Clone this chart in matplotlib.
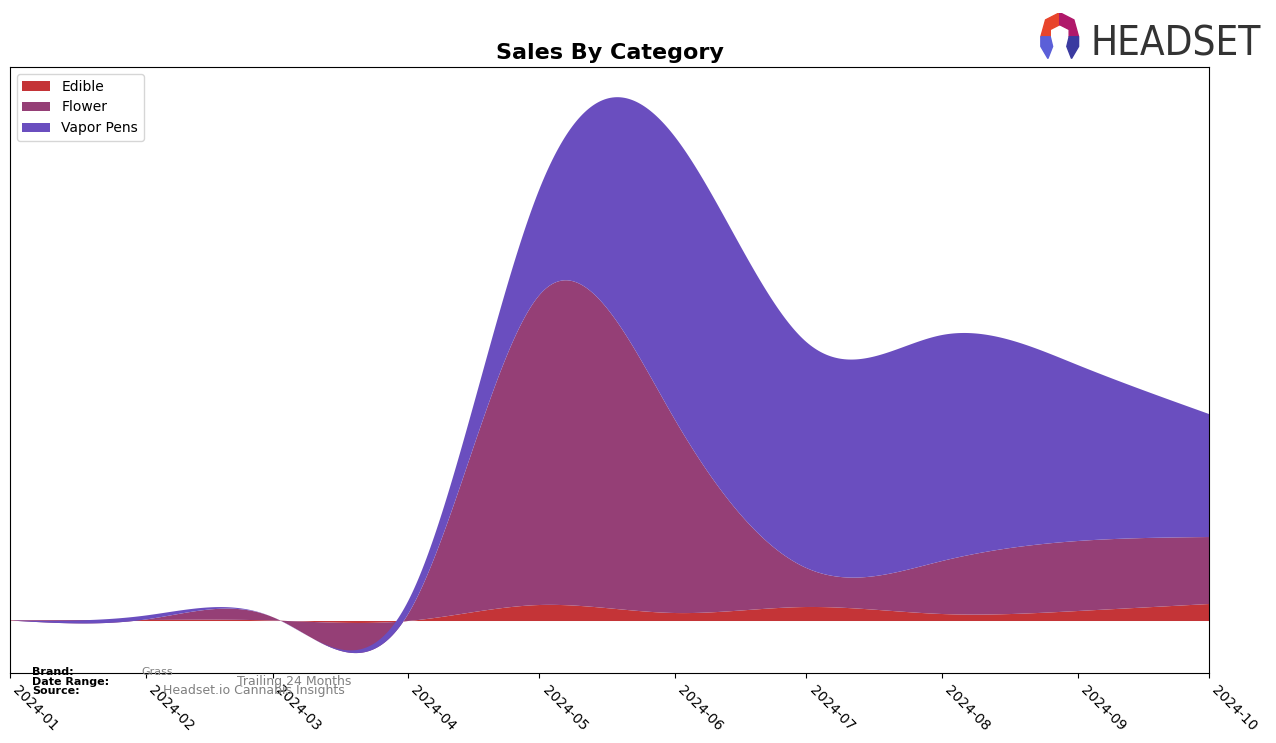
import numpy as np
import pandas as pd
import matplotlib
matplotlib.use('Agg')
import matplotlib.pyplot as plt
import matplotlib.dates as mdates
from matplotlib.patches import Polygon

months = ['2024-01', '2024-02', '2024-03', '2024-04', '2024-05',
          '2024-06', '2024-07', '2024-08', '2024-09', '2024-10']
categories = ['Edible', 'Flower', 'Vapor Pens']
edible = [0.5, 1.0, 0.5, 0.0, 16, 8, 14, 7, 10, 17]
flower = [0.0, 0.5, 3.5, 7.0, 310, 193, 39, 53, 70, 67]
vapor_pens = [0.0, 4.0, 0.0, 13.0, 106, 283, 226, 226, 176, 123]
colors = ['#c43437', '#953f76', '#6a4ebf']

brand = 'Grass'
date_range = 'Trailing 24 Months'
source = 'Headset.io Cannabis Insights'


def natural_spline(x, y, xs):
    # plain natural cubic spline, just to smooth the monthly values
    x = np.asarray(x, float)
    y = np.asarray(y, float)
    n = len(x)
    h = np.diff(x)
    A = np.zeros((n, n))
    b = np.zeros(n)
    A[0, 0] = 1
    A[-1, -1] = 1
    for i in range(1, n - 1):
        A[i, i - 1] = h[i - 1]
        A[i, i] = 2 * (h[i - 1] + h[i])
        A[i, i + 1] = h[i]
        b[i] = 3 * ((y[i + 1] - y[i]) / h[i] - (y[i] - y[i - 1]) / h[i - 1])
    c = np.linalg.solve(A, b)
    idx = np.clip(np.searchsorted(x, xs) - 1, 0, n - 2)
    dx = xs - x[idx]
    bb = (y[idx + 1] - y[idx]) / h[idx] - h[idx] * (2 * c[idx] + c[idx + 1]) / 3
    d = (c[idx + 1] - c[idx]) / (3 * h[idx])
    return y[idx] + bb * dx + c[idx] * dx ** 2 + d * dx ** 3


dates = pd.to_datetime(months)
x = mdates.date2num(dates)
xs = np.linspace(x[0], x[-1], 600)
smooth = [natural_spline(x, s, xs) for s in (edible, flower, vapor_pens)]

fig = plt.figure(figsize=(12.76, 7.43), dpi=100)
ax = fig.add_axes([0.0078, 0.0942, 0.9397, 0.8156])
ax.stackplot(xs, *smooth, labels=categories, colors=colors)

ax.set_xlim(x[0], x[-1])
ax.set_ylim(-52, 554)
ax.set_yticks([])
ax.set_xticks(x)
ax.set_xticklabels(months, rotation=-45, ha='left', va='top', fontsize=10)
ax.set_title('Sales By Category', fontsize=16, fontweight='bold')
ax.legend(loc='upper left', fontsize=10)

fig.text(0.025, 0.0915, 'Brand:', fontsize=8, fontweight='bold')
fig.text(0.025, 0.0780, 'Date Range:', fontsize=8, fontweight='bold')
fig.text(0.025, 0.0660, 'Source:', fontsize=8, fontweight='bold')
fig.text(0.111, 0.0915, brand, fontsize=8, color='gray')
fig.text(0.186, 0.0780, date_range, fontsize=9, color='gray')
fig.text(0.128, 0.0660, source, fontsize=9, color='gray')

# logo
fig.text(0.855, 0.925, 'HEADSET', fontsize=29, color='#333333', fontfamily='DejaVu Sans',
         fontstretch='condensed')
lg = fig.add_axes([0.812, 0.918, 0.037, 0.065])
lg.set_xlim(0, 10)
lg.set_ylim(0, 10)
lg.axis('off')
lg.add_patch(Polygon([[1, 5], [2, 8.5], [5, 10], [5, 7.5], [3, 6.5], [3, 5]], color='#e8452c'))
lg.add_patch(Polygon([[5, 10], [8, 8.5], [9, 5], [7, 5], [7, 6.5], [5, 7.5]], color='#b0186a'))
lg.add_patch(Polygon([[1, 5], [3, 5], [3.5, 3], [2.5, 0.5], [1, 3]], color='#5b5fd8'))
lg.add_patch(Polygon([[9, 5], [7, 5], [6.5, 3], [7.5, 0.5], [9, 3]], color='#3a3aa0'))

fig.savefig('out.png', dpi=100)
